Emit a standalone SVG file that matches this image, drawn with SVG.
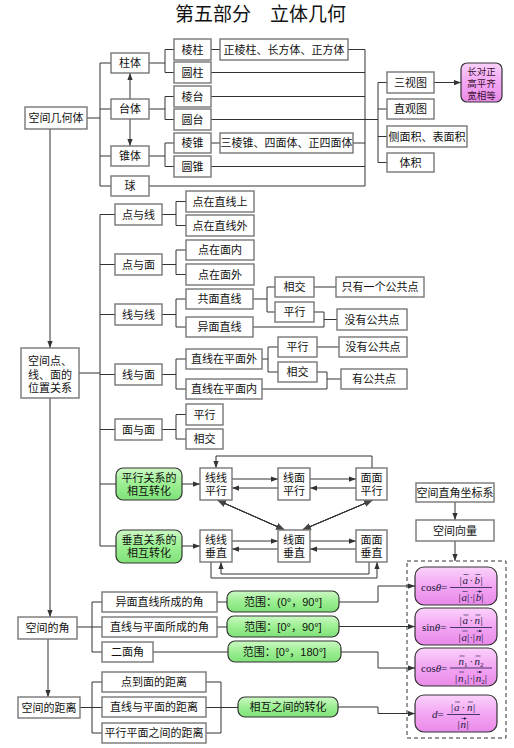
<svg xmlns="http://www.w3.org/2000/svg" width="514" height="748" viewBox="0 0 514 748">
<defs>
<style>
.b{fill:#fff;stroke:#777;stroke-width:1.4}
.g{fill:url(#gg);stroke:#333;stroke-width:1.2}
.p{fill:url(#pg);stroke:#333;stroke-width:1.2}
.t{font-family:"Liberation Sans","Noto Sans CJK SC","Noto Sans CJK JP",sans-serif;font-size:11px;fill:#111;text-anchor:middle}
.c path{fill:none;stroke:#333;stroke-width:1}
.a{marker-end:url(#ar)}
.f{font-family:"Liberation Serif","DejaVu Serif",serif;font-size:11px;fill:#1a1a40}
.s{font-size:7px}
.i{font-style:italic}
.fl{stroke:#1a1a40;stroke-width:0.8}
.va{fill:none;stroke:#1a1a40;stroke-width:0.6;marker-end:url(#vh)}
.dk{fill:none;stroke:#444;stroke-width:3.6}
.wh{fill:none;stroke:#fff;stroke-width:1.4}
.dt{fill:none;stroke:#444;stroke-width:1;marker-start:url(#ar2);marker-end:url(#ar2)}
</style>
<marker id="ar" viewBox="0 0 8 8" refX="8" refY="4" markerWidth="7" markerHeight="7" orient="auto" markerUnits="userSpaceOnUse"><path d="M0,1 L8,4 L0,7 z" fill="#333"/></marker>
<marker id="ar2" viewBox="0 0 10 10" refX="10" refY="5" markerWidth="9" markerHeight="9" orient="auto-start-reverse" markerUnits="userSpaceOnUse"><path d="M0,1 L10,5 L0,9 z" fill="#444"/></marker>
<marker id="vh" viewBox="0 0 6 6" refX="6" refY="3" markerWidth="2.6" markerHeight="2.6" orient="auto" markerUnits="userSpaceOnUse"><path d="M0,0 L6,3 L0,6 z" fill="#1a1a40"/></marker>
<linearGradient id="gg" x1="0" y1="0" x2="0" y2="1"><stop offset="0" stop-color="#ccf9c4"/><stop offset="0.5" stop-color="#9cef92"/><stop offset="1" stop-color="#7fe278"/></linearGradient>
<linearGradient id="pg" x1="0" y1="0" x2="0" y2="1"><stop offset="0" stop-color="#fbd2fb"/><stop offset="0.5" stop-color="#f3a6f3"/><stop offset="1" stop-color="#e98ae9"/></linearGradient>
</defs>
<rect width="514" height="748" fill="#fff"/>
<text x="175" y="21" style="font-family:'Noto Sans CJK SC',sans-serif;font-size:19px;fill:#111">第五部分　立体几何</text>

<g id="connectors" class="c">
<path d="M87,118H100 M100,63V186 M100,63H111 M100,109H111 M100,156H111 M100,186H111"/>
<path class="a" d="M130,99V73"/>
<path class="a" d="M130,119V146"/>
<path d="M149,63H165 M165,49.5V72.5 M165,49.5H174 M165,72.5H174 M149,109H165 M165,96.5V119.5 M165,96.5H174 M165,119.5H174 M149,156H165 M165,143V166.5 M165,143H174 M165,166.5H174"/>
<path d="M211,49.5H220 M211,143H220 M348,49.5H365 M211,72.5H365 M211,96.5H365 M211,119.5H378 M353,143H365 M211,166.5H365 M149,186H365 M365,49.5V186"/>
<path d="M378,82.5V162.5 M378,82.5H387 M378,109H387 M378,136.5H387 M378,162.5H387"/>
<path class="a" d="M434,82.5H461"/>
<path class="a" d="M50,129V348"/>
<path d="M79,373H100 M100,214.5V546 M100,214.5H115 M100,264.5H115 M100,314.5H115 M100,374.5H115 M100,429.5H115 M100,484H116 M100,546H116"/>
<path d="M162,214.5H176 M176,201.5V225.5 M176,201.5H186 M176,225.5H186 M162,264.5H176 M176,250V274.5 M176,250H186 M176,274.5H186 M162,314.5H176 M176,299V327 M176,299H186 M176,327H186 M162,374.5H176 M176,359V389 M176,359H186 M176,389H186 M162,429.5H176 M176,414.5V439 M176,414.5H186 M176,439H186"/>
<path d="M253,299H267 M267,287V312 M267,287H275 M267,312H275 M314,287H336 M314,312H324 M253,327H324 M324,312V327 M324,319.5H337"/>
<path d="M262,359H268 M268,347V372 M268,347H278 M268,372H278 M317,347H339 M317,372H327 M262,389H327 M327,372V389 M327,379H341"/>
<path class="a" d="M182,484H200"/>
<path class="a" d="M182,546H200"/>
<path class="a" d="M232,479H278"/>
<path class="a" d="M278,488H232"/>
<path class="a" d="M310,479H356"/>
<path class="a" d="M356,488H310"/>
<path class="a" d="M372,468V456H216V468"/>
<path class="a" d="M232,541H278"/>
<path class="a" d="M278,549H232"/>
<path class="a" d="M310,541H356"/>
<path class="a" d="M356,549H310"/>
<path class="a" d="M211,562V578H377V562"/>
<path class="a" d="M369,562V574H221V562"/>
<path class="dt" d="M217,500L285,530"/>
<path class="dk" d="M224.3,503.2L277.7,526.8"/>
<path class="wh" d="M224.3,503.2L277.7,526.8"/>
<path class="dt" d="M373,500L302,530"/>
<path class="dk" d="M365.6,503.1L309.4,526.9"/>
<path class="wh" d="M365.6,503.1L309.4,526.9"/>
<path class="a" d="M455,502V520"/>
<path class="a" d="M455,541V561"/>
<path class="a" d="M50,398V617"/>
<path class="a" d="M48,639V697"/>
<path d="M77,627H92 M92,602V652 M92,602H102 M92,627H102 M92,652H102 M217,602H227 M217,627H227 M153,652H228"/>
<path class="a" d="M339,602H378V586H415"/>
<path class="a" d="M339,626.5H415"/>
<path class="a" d="M341,652H378V668H415"/>
<path d="M80,707.5H92 M92,682V733 M92,682H102 M92,707.5H102 M92,733H102 M206,682H221 M206,707.5H221 M206,733H221 M221,682V733 M221,707.5H238"/>
<path class="a" d="M338,707H378V713.5H415"/>
</g>

<g id="n-kjjht"><rect class="b" x="25" y="107" width="62" height="22"/><text class="t" x="56" y="122">空间几何体</text></g>
<g id="n-zt"><rect class="b" x="111" y="53" width="38" height="20"/><text class="t" x="130" y="67">柱体</text></g>
<g id="n-tt"><rect class="b" x="111" y="99" width="38" height="20"/><text class="t" x="130" y="113">台体</text></g>
<g id="n-zhui"><rect class="b" x="111" y="146" width="38" height="20"/><text class="t" x="130" y="160">锥体</text></g>
<g id="n-qiu"><rect class="b" x="111" y="176" width="38" height="20"/><text class="t" x="130" y="190">球</text></g>
<g id="n-lz"><rect class="b" x="174" y="39" width="37" height="21"/><text class="t" x="192.5" y="53.5">棱柱</text></g>
<g id="n-yz"><rect class="b" x="174" y="62" width="37" height="21"/><text class="t" x="192.5" y="76.5">圆柱</text></g>
<g id="n-lt"><rect class="b" x="174" y="86" width="37" height="21"/><text class="t" x="192.5" y="100.5">棱台</text></g>
<g id="n-yt"><rect class="b" x="174" y="109" width="37" height="21"/><text class="t" x="192.5" y="123.5">圆台</text></g>
<g id="n-lzhui"><rect class="b" x="174" y="133" width="37" height="20"/><text class="t" x="192.5" y="147">棱锥</text></g>
<g id="n-yzhui"><rect class="b" x="174" y="156" width="37" height="21"/><text class="t" x="192.5" y="170.5">圆锥</text></g>
<g id="n-zlz"><rect class="b" x="220" y="39" width="128" height="21"/><text class="t" x="284" y="53.5">正棱柱、长方体、正方体</text></g>
<g id="n-slz"><rect class="b" x="220" y="133" width="133" height="20"/><text class="t" x="286.5" y="147">三棱锥、四面体、正四面体</text></g>
<g id="n-ssd"><rect class="b" x="387" y="72" width="47" height="21"/><text class="t" x="410.5" y="86.5">三视图</text></g>
<g id="n-zgt"><rect class="b" x="387" y="99" width="47" height="20"/><text class="t" x="410.5" y="113">直观图</text></g>
<g id="n-cmj"><rect class="b" x="387" y="126" width="80" height="21"/><text class="t" x="427" y="140.5">侧面积、表面积</text></g>
<g id="n-tj"><rect class="b" x="387" y="153" width="47" height="19"/><text class="t" x="410.5" y="166.5">体积</text></g>
<g id="n-cdz"><rect class="p" x="461" y="63" width="41" height="39" rx="6"/><text class="t" style="font-size:9.5px;fill:#3a1030"><tspan x="481.5" y="74.5">长对正</tspan><tspan x="481.5" y="86.5">高平齐</tspan><tspan x="481.5" y="98.5">宽相等</tspan></text></g>

<g id="n-wzgx"><rect class="b" x="21" y="348" width="58" height="50"/><text class="t"><tspan x="50" y="365">空间点、</tspan><tspan x="50" y="378.5">线、面的</tspan><tspan x="50" y="392">位置关系</tspan></text></g>
<g id="n-dyx"><rect class="b" x="115" y="204" width="47" height="21"/><text class="t" x="138.5" y="218.5">点与线</text></g>
<g id="n-dym"><rect class="b" x="115" y="254" width="47" height="21"/><text class="t" x="138.5" y="268.5">点与面</text></g>
<g id="n-xyx"><rect class="b" x="115" y="304" width="47" height="21"/><text class="t" x="138.5" y="318.5">线与线</text></g>
<g id="n-xym"><rect class="b" x="115" y="364" width="47" height="21"/><text class="t" x="138.5" y="378.5">线与面</text></g>
<g id="n-mym"><rect class="b" x="115" y="419" width="47" height="21"/><text class="t" x="138.5" y="433.5">面与面</text></g>
<g id="n-dzzxs"><rect class="b" x="186" y="191" width="68" height="21"/><text class="t" x="220" y="205.5">点在直线上</text></g>
<g id="n-dzzxw"><rect class="b" x="186" y="215" width="68" height="21"/><text class="t" x="220" y="229.5">点在直线外</text></g>
<g id="n-dzmn"><rect class="b" x="186" y="240" width="68" height="20"/><text class="t" x="220" y="254">点在面内</text></g>
<g id="n-dzmw"><rect class="b" x="186" y="264" width="68" height="21"/><text class="t" x="220" y="278.5">点在面外</text></g>
<g id="n-gmzx"><rect class="b" x="186" y="289" width="67" height="20"/><text class="t" x="219.5" y="303">共面直线</text></g>
<g id="n-ymzx"><rect class="b" x="186" y="317" width="67" height="20"/><text class="t" x="219.5" y="331">异面直线</text></g>
<g id="n-zxzpmw"><rect class="b" x="186" y="349" width="76" height="20"/><text class="t" x="224" y="363">直线在平面外</text></g>
<g id="n-zxzpmn"><rect class="b" x="186" y="379" width="76" height="20"/><text class="t" x="224" y="393">直线在平面内</text></g>
<g id="n-mmpx"><rect class="b" x="186" y="404" width="37" height="21"/><text class="t" x="204.5" y="418.5">平行</text></g>
<g id="n-mmxj"><rect class="b" x="186" y="429" width="37" height="20"/><text class="t" x="204.5" y="443">相交</text></g>
<g id="n-xxxj"><rect class="b" x="275" y="277" width="39" height="20"/><text class="t" x="294.5" y="291">相交</text></g>
<g id="n-xxpx"><rect class="b" x="275" y="302" width="39" height="20"/><text class="t" x="294.5" y="316">平行</text></g>
<g id="n-zyyg"><rect class="b" x="336" y="277" width="88" height="20"/><text class="t" x="380" y="291">只有一个公共点</text></g>
<g id="n-mygg1"><rect class="b" x="337" y="309" width="70" height="21"/><text class="t" x="372" y="323.5">没有公共点</text></g>
<g id="n-xmpx"><rect class="b" x="278" y="337" width="39" height="20"/><text class="t" x="297.5" y="351">平行</text></g>
<g id="n-xmxj"><rect class="b" x="278" y="362" width="39" height="20"/><text class="t" x="297.5" y="376">相交</text></g>
<g id="n-mygg2"><rect class="b" x="339" y="337" width="68" height="20"/><text class="t" x="373" y="351">没有公共点</text></g>
<g id="n-ygg"><rect class="b" x="341" y="369" width="66" height="20"/><text class="t" x="374" y="383">有公共点</text></g>

<g id="n-pxzh"><rect class="g" x="116" y="468" width="66" height="32" rx="7"/><text class="t"><tspan x="149" y="482">平行关系的</tspan><tspan x="149" y="495">相互转化</tspan></text></g>
<g id="n-czzh"><rect class="g" x="116" y="530" width="66" height="33" rx="7"/><text class="t"><tspan x="149" y="544">垂直关系的</tspan><tspan x="149" y="557">相互转化</tspan></text></g>
<g id="n-xxpx2"><rect class="b" x="200" y="468" width="32" height="32"/><text class="t"><tspan x="216" y="482">线线</tspan><tspan x="216" y="495">平行</tspan></text></g>
<g id="n-xmpx2"><rect class="b" x="278" y="468" width="32" height="32"/><text class="t"><tspan x="294" y="482">线面</tspan><tspan x="294" y="495">平行</tspan></text></g>
<g id="n-mmpx2"><rect class="b" x="356" y="468" width="31" height="32"/><text class="t"><tspan x="371.5" y="482">面面</tspan><tspan x="371.5" y="495">平行</tspan></text></g>
<g id="n-xxcz"><rect class="b" x="200" y="530" width="32" height="32"/><text class="t"><tspan x="216" y="544">线线</tspan><tspan x="216" y="557">垂直</tspan></text></g>
<g id="n-xmcz"><rect class="b" x="278" y="530" width="32" height="32"/><text class="t"><tspan x="294" y="544">线面</tspan><tspan x="294" y="557">垂直</tspan></text></g>
<g id="n-mmcz"><rect class="b" x="356" y="530" width="31" height="32"/><text class="t"><tspan x="371.5" y="544">面面</tspan><tspan x="371.5" y="557">垂直</tspan></text></g>

<g id="n-zjzb"><rect class="b" x="416" y="483" width="78" height="19"/><text class="t" x="455" y="496.5">空间直角坐标系</text></g>
<g id="n-kjxl"><rect class="b" x="416" y="520" width="78" height="21"/><text class="t" x="455" y="534.5">空间向量</text></g>
<g id="n-formulas">
<rect x="407" y="561" width="99" height="177" fill="none" stroke="#333" stroke-width="1" stroke-dasharray="4,3"/>
<rect class="p" x="415" y="567" width="82" height="38" rx="9"/>
<text class="f" x="421" y="591">cos<tspan class="i">θ</tspan>=</text>
<line class="fl" x1="450" y1="587.5" x2="492" y2="587.5"/>
<text class="f" y="584"><tspan x="459.5">|</tspan><tspan class="i" x="462.5">a</tspan><tspan x="469.6">·</tspan><tspan class="i" x="474.5">b</tspan><tspan x="480.5">|</tspan></text>
<text class="f" y="601"><tspan x="458.5">|</tspan><tspan class="i" x="461.5">a</tspan><tspan x="467">|</tspan><tspan x="469.6">·</tspan><tspan x="472.75">|</tspan><tspan class="i" x="475.75">b</tspan><tspan x="481.25">|</tspan></text>
<path class="va" d="M463.5,574.5h5 M475.5,574.5h5 M462.5,591.5h5 M476.75,591.5h5"/>
<rect class="p" x="415" y="608" width="82" height="37" rx="9"/>
<text class="f" x="422" y="631">sin<tspan class="i">θ</tspan>=</text>
<line class="fl" x1="450" y1="627.5" x2="492" y2="627.5"/>
<text class="f" y="624"><tspan x="459.5">|</tspan><tspan class="i" x="462.5">a</tspan><tspan x="469.6">·</tspan><tspan class="i" x="474.5">n</tspan><tspan x="480.5">|</tspan></text>
<text class="f" y="640.5"><tspan x="458.5">|</tspan><tspan class="i" x="461.5">a</tspan><tspan x="467">|</tspan><tspan x="469.6">·</tspan><tspan x="472.75">|</tspan><tspan class="i" x="475.75">n</tspan><tspan x="481.25">|</tspan></text>
<path class="va" d="M463.5,615h5 M475.5,615h5 M462.5,631h5 M476.75,631h5"/>
<rect class="p" x="415" y="648" width="82" height="38" rx="9"/>
<text class="f" x="421" y="671.5">cos<tspan class="i">θ</tspan>=</text>
<line class="fl" x1="450" y1="668" x2="492" y2="668"/>
<text class="f"><tspan class="i" x="458.5" y="664.5">n</tspan><tspan class="s" x="464" y="666.5">1</tspan><tspan x="469.6" y="664.5">·</tspan><tspan class="i" x="474.5" y="664.5">n</tspan><tspan class="s" x="480" y="666.5">2</tspan></text>
<text class="f"><tspan x="455" y="681.5">|</tspan><tspan class="i" x="458" y="681.5">n</tspan><tspan class="s" x="463.5" y="683.5">1</tspan><tspan x="467" y="681.5">|</tspan><tspan x="469.6" y="681.5">·</tspan><tspan x="472.75" y="681.5">|</tspan><tspan class="i" x="475.75" y="681.5">n</tspan><tspan class="s" x="481.25" y="683.5">2</tspan><tspan x="484.75" y="681.5">|</tspan></text>
<path class="va" d="M459.5,656h5 M475.5,656h5 M459,672h5 M476.75,672h5"/>
<rect class="p" x="415" y="695" width="82" height="37" rx="9"/>
<text class="f" x="432" y="718"><tspan class="i">d</tspan>=</text>
<line class="fl" x1="447" y1="714.5" x2="480" y2="714.5"/>
<text class="f" y="711"><tspan x="451">|</tspan><tspan class="i" x="454">a</tspan><tspan x="461.6">·</tspan><tspan class="i" x="467">n</tspan><tspan x="473">|</tspan></text>
<text class="f" y="728"><tspan x="457.5">|</tspan><tspan class="i" x="460.5">n</tspan><tspan x="466.5">|</tspan></text>
<path class="va" d="M455,702h5 M468,702h5 M461.5,718.5h5"/>
</g>

<g id="n-kjdj"><rect class="b" x="18" y="617" width="59" height="22"/><text class="t" x="47.5" y="632">空间的角</text></g>
<g id="n-kjjl"><rect class="b" x="18" y="697" width="62" height="21"/><text class="t" x="49" y="711.5">空间的距离</text></g>
<g id="n-ymzxj"><rect class="b" x="102" y="592" width="115" height="20"/><text class="t" x="159.5" y="606">异面直线所成的角</text></g>
<g id="n-zxpmj"><rect class="b" x="102" y="617" width="115" height="20"/><text class="t" x="159.5" y="631">直线与平面所成的角</text></g>
<g id="n-emj"><rect class="b" x="102" y="642" width="51" height="20"/><text class="t" x="127.5" y="656">二面角</text></g>
<g id="n-fw1"><rect class="g" x="227" y="591" width="112" height="21" rx="7"/><text class="t" x="283" y="605.5">范围：(0°，90°]</text></g>
<g id="n-fw2"><rect class="g" x="227" y="616" width="112" height="21" rx="7"/><text class="t" x="283" y="630.5">范围：[0°，90°]</text></g>
<g id="n-fw3"><rect class="g" x="228" y="641" width="113" height="21" rx="7"/><text class="t" x="284.5" y="655.5">范围：[0°，180°]</text></g>
<g id="n-ddm"><rect class="b" x="102" y="672" width="104" height="20"/><text class="t" x="154" y="686">点到面的距离</text></g>
<g id="n-zxpm"><rect class="b" x="102" y="697" width="104" height="20"/><text class="t" x="154" y="711">直线与平面的距离</text></g>
<g id="n-pxpm"><rect class="b" x="102" y="723" width="104" height="20"/><text class="t" x="154" y="737">平行平面之间的距离</text></g>
<g id="n-xhzh"><rect class="g" x="238" y="697" width="100" height="20" rx="7"/><text class="t" x="288" y="711">相互之间的转化</text></g>
</svg>
